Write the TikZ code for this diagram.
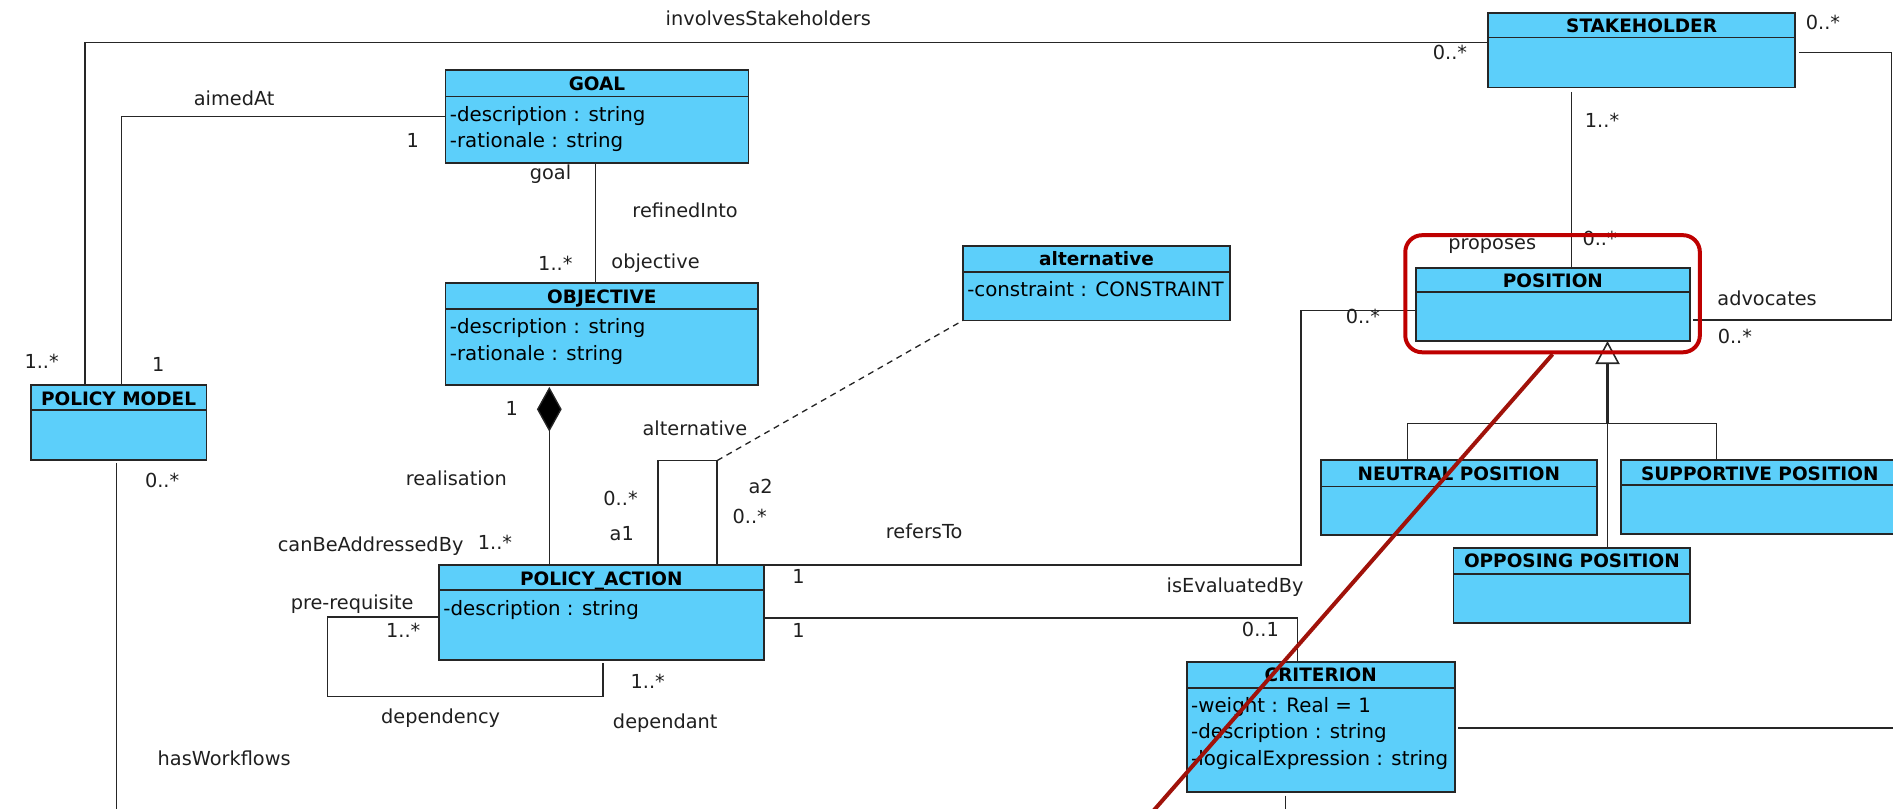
\documentclass[tikz,border=0pt]{standalone}
\usepackage{fontspec}
\setmainfont{DejaVu Sans}
\usetikzlibrary{arrows.meta,calc}

\definecolor{clsfill}{RGB}{92,207,250}
\definecolor{hlred}{RGB}{190,0,0}
\definecolor{strike}{RGB}{160,18,10}

\tikzset{
  clsbox/.style={draw=black!85, line width=1.5pt, fill=clsfill, inner sep=0pt,
                 outer sep=0pt, anchor=north west},
  sep/.style={draw=black!85, line width=1.5pt},
  ttl/.style={font=\fontsize{15.3}{18}\selectfont\bfseries, inner sep=0pt, anchor=base},
  att/.style={font=\fontsize{16.4}{18}\selectfont, inner sep=0pt, anchor=base west},
  lbl/.style={font=\fontsize{16}{18}\selectfont, inner sep=0pt, text=black!88},
  assoc/.style={draw=black!85, line width=1.1pt},
  dep/.style={assoc, dash pattern=on 5pt off 4pt},
}

% class box: name, left, top, width, height, header height, title
\newcommand\UClass[7]{%
  \node[clsbox, minimum width=#4pt, minimum height=#5pt] (#1) at (#2,#3) {};
  \draw[sep] ($(#1.north west)+(0,#6)$) -- ($(#1.north east)+(0,#6)$);
  \node[ttl] (#1-t) at ($(#1.north)+(0,16.6)$) {#7};
}
% attribute line: class, index, baseline offset from top, text
\newcommand\UAttr[4]{%
  \node[att] (#1-a#2) at ($(#1.north west)+(3.5,#3)$) {#4};
}

\begin{document}
\begin{tikzpicture}[x=1pt, y=-1pt]
\useasboundingbox (0,0) rectangle (1568,670);
\clip (0,0) rectangle (1568,670);

% ---------- classes ----------
\UClass{stake}{1232.5}{10.5}{254.5}{62}{20.5}{STAKEHOLDER}
\UClass{goal}{369}{58}{251}{77}{22}{GOAL}
\UAttr{goal}{1}{42.5}{-description : string}
\UAttr{goal}{2}{64.2}{-rationale : string}
\UClass{objective}{369}{234.5}{259}{84.5}{21.5}{OBJECTIVE}
\UAttr{objective}{1}{42}{-description : string}
\UAttr{objective}{2}{63.7}{-rationale : string}
\UClass{alternative}{797.5}{203.5}{221.5}{62}{21.5}{alternative}
\UAttr{alternative}{1}{42.5}{-constraint : CONSTRAINT}
\UClass{pm}{25.4}{319}{145.6}{62}{20.6}{POLICY MODEL}
\UClass{pa}{363.6}{468}{269}{79}{21}{POLICY\_ACTION}
\UAttr{pa}{1}{41.5}{-description : string}
\UClass{position}{1172.6}{221.7}{227.4}{60.8}{20.2}{POSITION}
\UClass{neutral}{1094}{381}{228.6}{62}{22}{NEUTRAL POSITION}
\UClass{supportive}{1342.7}{381}{230}{61}{21}{SUPPORTIVE POSITION}
\UClass{opposing}{1204}{453.6}{196}{62.4}{22}{OPPOSING POSITION}
\UClass{criterion}{983}{548}{222}{108}{22}{CRITERION}
\UAttr{criterion}{1}{42.3}{-weight : Real = 1}
\UAttr{criterion}{2}{64}{-description : string}
\UAttr{criterion}{3}{85.7}{-logicalExpression : string}

% ---------- associations ----------
% involvesStakeholders
\draw[assoc] (70.4,0 |- pm.north) -- (70.4,35) -- (stake.west |- 0,35);
% aimedAt
\draw[assoc] (goal.west) -| (100.8,0 |- pm.north);
% refinedInto
\draw[assoc] (493,0 |- goal.south) -- (493,0 |- objective.north);
% realisation (composition)
\coordinate (dtip) at ($(455,0 |- objective.south)+(0,1.5)$);
\draw[assoc, -{Diamond[length=37pt, width=20.5pt, fill=black]}]
  (455,0 |- pa.north) -- (dtip);
% alternative a1 / a2 self association
\coordinate (altjoin) at (594,381.5);
\draw[assoc] (545,0 |- pa.north) -- (545,381.5) -- (altjoin) -- (594,0 |- pa.north);
\draw[dep] (altjoin) -- (alternative.south west);
% dependency self association
\draw[assoc] (pa.west |- 0,511) -- (271,511) -- (271,577) -- (499.6,577)
  -- ($(499.6,0 |- pa.south)+(0,2)$);
% refersTo
\draw[assoc] (pa.north east) -| (1077.5,257) -- (position.west |- 0,257);
% isEvaluatedBy
\draw[assoc] (pa.east |- 0,512) -| (1074.5,0 |- criterion.north);
% hasWorkflows
\draw[assoc, shorten <=2.5pt] (96.6,0 |- pm.south) -- (96.6,690);
% criterion outgoing lines
\draw[assoc, shorten <=2.5pt] (criterion.east |- 0,603) -- (1590,603);
\draw[assoc, shorten <=3pt] (1065,0 |- criterion.south) -- (1065,690);
% proposes
\draw[assoc, shorten <=3.5pt] (1301.8,0 |- stake.south) -- (1301.8,0 |- position.north);
% advocates
\draw[assoc] ($(stake.east |- 0,43.6)+(3,0)$) -- (1567,43.6) -- (1567,265)
  -- ($(position.east |- 0,265)+(2.5,0)$);

% ---------- generalisation ----------
\coordinate (gjoin) at (1331.5,351);
\draw[draw=black!85, line width=2pt, -{Triangle[open, length=19pt, width=20pt, line width=1.3pt]}]
  (gjoin) -- (1331.5,0 |- position.south);
\draw[assoc] (1166,0 |- neutral.north) -- (1166,351) -- (1422,351) -- (1422,0 |- supportive.north);
\draw[assoc] (gjoin) -- (1331.5,0 |- opposing.north);

% ---------- role names and multiplicities ----------
\node[lbl] (l-inv)  at (636.4,15.2) {involvesStakeholders};
\node[lbl] (l-sk0)  at (1201,43.6) {0..*};
\node[lbl] (l-sk1)  at (1510,19) {0..*};
\node[lbl] (l-aim)  at (194,81.5) {aimedAt};
\node[lbl] (l-g1)   at (342,116) {1};
\node[lbl] (l-goal) at (456,144) {goal};
\node[lbl] (l-ref)  at (567.5,174.5) {refinedInto};
\node[lbl] (l-o1)   at (460,218) {1..*};
\node[lbl] (l-obj)  at (543,217.6) {objective};
\node[lbl] (l-pm1)  at (34.5,299.6) {1..*};
\node[lbl] (l-pm2)  at (131,302) {1};
\node[lbl] (l-d1)   at (424,338) {1};
\node[lbl] (l-pm3)  at (134.3,397.6) {0..*};
\node[lbl] (l-real) at (378,396) {realisation};
\node[lbl] (l-alt)  at (575.6,354.7) {alternative};
\node[lbl] (l-a1m)  at (514,413) {0..*};
\node[lbl] (l-a1)   at (515,441.6) {a1};
\node[lbl] (l-a2)   at (630,403) {a2};
\node[lbl] (l-a2m)  at (621,428) {0..*};
\node[lbl] (l-cba)  at (307,452.8) {canBeAddressedBy};
\node[lbl] (l-cbam) at (410,449.5) {1..*};
\node[lbl] (l-rt)   at (765.5,439.8) {refersTo};
\node[lbl] (l-rt1)  at (661.5,477.6) {1};
\node[lbl] (l-ie)   at (1023,486) {isEvaluatedBy};
\node[lbl] (l-ie1)  at (661.5,521.8) {1};
\node[lbl] (l-ie2)  at (1044,521) {0..1};
\node[lbl] (l-pre)  at (291.7,500.3) {pre-requisite};
\node[lbl] (l-prem) at (334,521.8) {1..*};
\node[lbl] (l-depm) at (536.5,564.6) {1..*};
\node[lbl] (l-dep)  at (365,594.8) {dependency};
\node[lbl] (l-dpt)  at (551,599) {dependant};
\node[lbl] (l-hw)   at (185.7,628) {hasWorkflows};
\node[lbl] (l-sp1)  at (1327,100) {1..*};
\node[lbl] (l-prop) at (1236,204) {proposes};
\node[lbl] (l-sp2)  at (1325,197.5) {0..*};
\node[lbl] (l-adv)  at (1463.7,247) {advocates};
\node[lbl] (l-adv1) at (1437,279) {0..*};
\node[lbl] (l-pos0) at (1129,262) {0..*};

% ---------- red highlight and strike line ----------
\node[draw=hlred, line width=3.3pt, rounded corners=14pt, inner sep=0pt,
      minimum width=244pt, minimum height=97pt] (hl) at (1286,243.3) {};
\draw[strike, line width=3.3pt] (hl.south) -- (948,680);
\end{tikzpicture}
\end{document}
